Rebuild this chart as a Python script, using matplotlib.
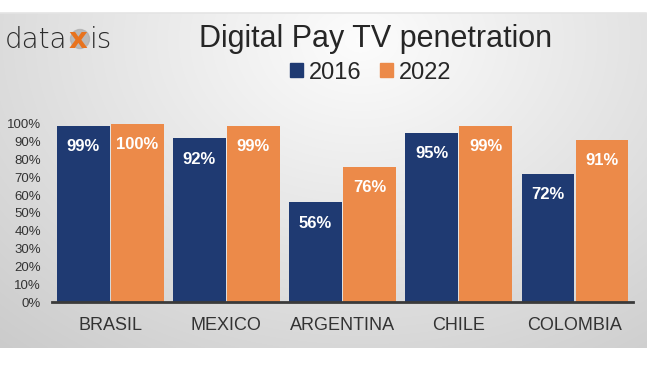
import matplotlib.pyplot as plt
import numpy as np
from matplotlib.patches import Patch, Circle

plt.rcParams['font.family'] = ['Liberation Sans', 'DejaVu Sans']

# chart data
countries = ["BRASIL", "MEXICO", "ARGENTINA", "CHILE", "COLOMBIA"]
years = ["2016", "2022"]
pen_2016 = [99, 92, 56, 95, 72]
pen_2022 = [100, 99, 76, 99, 91]
yticks = list(range(0, 101, 10))

blue = "#1f3a72"
orange = "#ec8a49"
text_col = "#333333"

fig = plt.figure(figsize=(6.5, 3.65), dpi=100)

# grey panel with soft radial shading, white strip on top/bottom like the source image
bg = fig.add_axes([0, 0, 1, 1], zorder=-10)
W, H = 650, 365
yy, xx = np.mgrid[0:H, 0:W]
r = np.sqrt(((xx - 360) / 450.0) ** 2 + ((yy - 40) / 340.0) ** 2)
shade = np.clip(0.99 - 0.16 * r, 0, 1)
img = np.dstack([shade, shade, shade])
panel = (yy >= 13) & (yy <= 347) & (xx <= 646)
img[~panel] = 1.0
bg.imshow(img, extent=[0, W, H, 0], aspect="auto", interpolation="bilinear")
bg.axhline(13, color="#e4e4e4", lw=1.2, xmax=646 / W)
bg.set_xlim(0, W)
bg.set_ylim(H, 0)
bg.axis("off")

# logo: "data" + orange "x" on a grey ball + "is"
logo_font = dict(fontsize=20, color="#2b2b2b", family="DejaVu Sans", fontweight="light")
bg.add_patch(Circle((80, 39), 9.5, color="#b0b0b0", alpha=0.8, zorder=2))
t1 = bg.text(5, 48, "data", va="baseline", ha="left", zorder=3, **logo_font)
t2 = bg.annotate("x", xy=(1, 0), xycoords=t1, xytext=(1, 0), textcoords="offset points",
                 va="bottom", ha="left", fontsize=21, color="#e8731e", fontweight="bold",
                 family="DejaVu Sans", zorder=3)
bg.annotate("is", xy=(1, 0), xycoords=t2, xytext=(1.5, 0), textcoords="offset points",
            va="bottom", ha="left", zorder=3, **logo_font)

# main bar axes
ax = fig.add_axes([0.08, 0.1726, 0.894, 0.5121])
ax.patch.set_alpha(0)
x = np.arange(len(countries))
w = 0.455
b1 = ax.bar(x - 0.232, pen_2016, w, color=blue, linewidth=0, label=years[0])
b2 = ax.bar(x + 0.232, pen_2022, w, color=orange, linewidth=0, label=years[1])

for bars, vals in [(b1, pen_2016), (b2, pen_2022)]:
    for rect, v in zip(bars, vals):
        ax.annotate(f"{v}%", (rect.get_x() + rect.get_width() / 2, v),
                    xytext=(0, -15), textcoords="offset points",
                    ha="center", va="center", color="white",
                    fontsize=12, fontweight="bold")

ax.set_xlim(-0.5, len(countries) - 0.5)
ax.set_ylim(0, 105)
ax.set_yticks(yticks)
ax.set_yticklabels([f"{t}%" for t in yticks], fontsize=9.5, color=text_col)
ax.set_xticks(x)
ax.set_xticklabels(countries, fontsize=13, color=text_col)
ax.tick_params(axis="both", length=0)
ax.tick_params(axis="y", pad=8)
ax.tick_params(axis="x", pad=11)
for s in ["top", "right", "left"]:
    ax.spines[s].set_visible(False)
ax.spines["bottom"].set_color("#3a3a3a")
ax.spines["bottom"].set_linewidth(2)

fig.text(0.578, 0.872, "Digital Pay TV penetration", fontsize=22,
         color="#262626", ha="center", va="baseline")

handles = [Patch(color=blue), Patch(color=orange)]
fig.legend(handles, years, loc="center", bbox_to_anchor=(0.570, 0.801),
           ncol=2, frameon=False, fontsize=17, handlelength=0.55,
           handleheight=0.55, handletextpad=0.25, columnspacing=0.8,
           labelcolor="#262626")

fig.savefig("out.png", dpi=100)
